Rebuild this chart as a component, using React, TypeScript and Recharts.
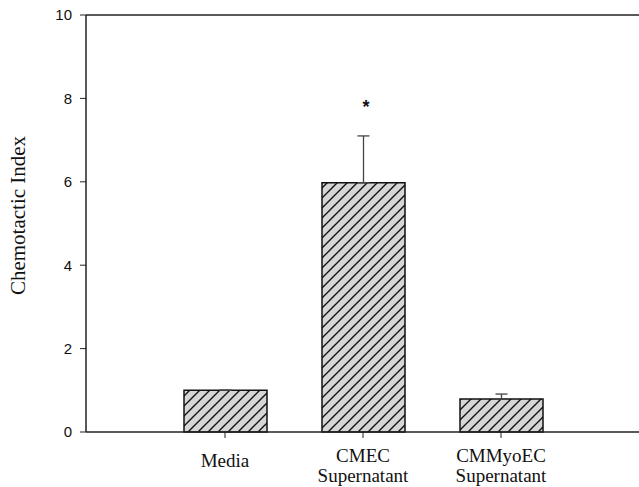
import { ComposedChart, Bar, ErrorBar, Scatter, XAxis, YAxis, ReferenceLine } from 'recharts';

const groups = ['Media', 'CMEC Supernatant', 'CMMyoEC Supernatant'];
const index = [1.0, 5.98, 0.79];
const sem = [0, 1.12, 0.12];
const starAt = [null, 7.9, null];
const yTicks = [0, 2, 4, 6, 8, 10];

const data = groups.map((g, i) => ({
  group: g,
  value: index[i],
  err: [0, sem[i]],
  star: starAt[i],
}));

function GroupTick({ x, y, payload }: any) {
  const lines = String(payload.value).split(' ');
  const first = lines.length === 1 ? 27 : 22;
  return (
    <text x={x} y={y + first} textAnchor="middle" fontFamily="'Liberation Serif', serif" fontSize={19} fill="#111">
      {lines.map((l, i) => (
        <tspan key={i} x={x} dy={i === 0 ? 0 : 20}>
          {l}
        </tspan>
      ))}
    </text>
  );
}

function Star({ cx, cy }: any) {
  if (cy == null || isNaN(cy)) return null;
  return (
    <text x={cx + 3} y={cy + 10} textAnchor="middle" fontFamily="'Liberation Sans', Arial" fontSize={18} fontWeight="bold" fill="#111">
      *
    </text>
  );
}

export default function App() {
  return (
    <div style={{ position: 'absolute', left: 0, top: 0, background: '#fff' }}>
      <ComposedChart width={639} height={487} data={data} margin={{ top: 15, right: 0, left: 0, bottom: 0 }}>
        <defs>
          <pattern id="hatch" patternUnits="userSpaceOnUse" width="10" height="10">
            <rect width="10" height="10" fill="#d6d6d6" />
            <path d="M0,10 L10,0 M-2.5,2.5 L2.5,-2.5 M7.5,12.5 L12.5,7.5" stroke="#111" strokeWidth={1.4} />
          </pattern>
        </defs>
        <XAxis
          dataKey="group"
          height={55}
          padding={{ left: 70, right: 69 }}
          axisLine={{ stroke: '#222', strokeWidth: 1.5 }}
          tickLine={{ stroke: '#222' }}
          tickSize={6}
          interval={0}
          tick={<GroupTick />}
        />
        <YAxis
          domain={[0, 10]}
          ticks={yTicks}
          width={86}
          axisLine={{ stroke: '#222', strokeWidth: 1.5 }}
          tickLine={{ stroke: '#222' }}
          tickSize={6}
          tickMargin={8}
          tick={{ fontFamily: "'Liberation Sans', Arial", fontSize: 15, fill: '#111' }}
          label={{
            value: 'Chemotactic Index',
            angle: -90,
            position: 'insideLeft',
            offset: 18,
            dy: -8,
            style: { textAnchor: 'middle', fontFamily: "'Liberation Serif', serif", fontSize: 21, fill: '#111' },
          }}
        />
        <ReferenceLine y={10} stroke="#222" strokeWidth={1.5} />
        <Bar dataKey="value" barSize={83} fill="url(#hatch)" stroke="#111" strokeWidth={1.5} isAnimationActive={false}>
          <ErrorBar dataKey="err" width={6} stroke="#444" strokeWidth={1.3} direction="y" />
        </Bar>
        <Scatter dataKey="star" shape={<Star />} isAnimationActive={false} />
      </ComposedChart>
    </div>
  );
}
